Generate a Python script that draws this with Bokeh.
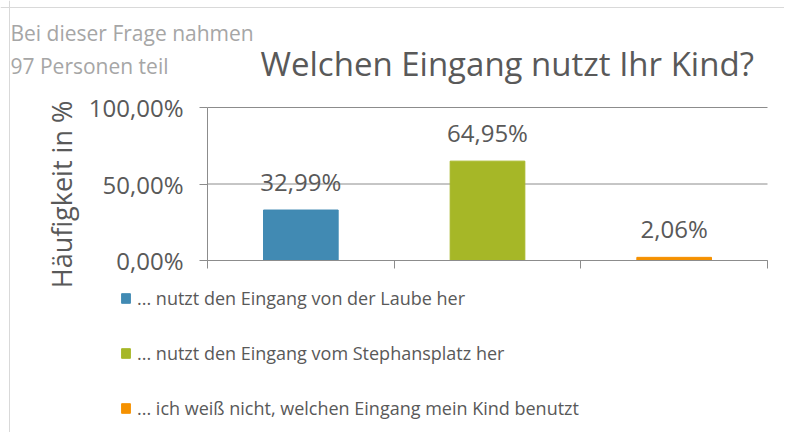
import math
from bokeh.plotting import figure
from bokeh.core.properties import value
from bokeh.models import (FixedTicker, Label, LabelSet, Legend, LegendItem,
                          ColumnDataSource, Range1d, LinearAxis, Span)
from bokeh.embed import file_html
from bokeh.resources import INLINE

# ---- data ----
categories = ["... nutzt den Eingang von der Laube her",
              "... nutzt den Eingang vom Stephansplatz her",
              "... ich weiß nicht, welchen Eingang mein Kind benutzt"]
values = [32.99, 64.95, 2.06]
colors = ["#418AB3", "#A6B727", "#F59100"]
y_ticks = [0, 50, 100]
y_tick_labels = ["0,00%", "50,00%", "100,00%"]
title_text = "Welchen Eingang nutzt Ihr Kind?"
note_lines = ["Bei dieser Frage nahmen", "97 Personen teil"]
y_label = "Häufigkeit in %"

FONT = "Open Sans"
TXT = "#595959"
GRID = "#8c8c8c"

# ---- layout (pixels) ----
W, H = 784, 432
PL, PR, PT, PB = 207, 767, 107, 260   # plot area inside the canvas
n = len(values)
ymax = y_ticks[-1]
ux = (PR - PL) / n
uy = (PB - PT) / ymax

xs = [i + 0.5 for i in range(n)]
labels = [f"{v:.2f}".replace(".", ",") + "%" for v in values]
src = ColumnDataSource(dict(x=xs, top=values, color=colors, label=labels, cat=categories))

p = figure(width=W, height=H, output_backend="svg", toolbar_location=None,
           x_range=Range1d(-PL / ux, (W - PL) / ux),
           y_range=Range1d(-(H - PB) / uy, PB / uy),
           x_axis_location=None, y_axis_location=None,
           min_border=0, min_border_left=0, min_border_right=0,
           min_border_top=0, min_border_bottom=0)
p.outline_line_color = None
p.background_fill_color = "white"
p.border_fill_color = "white"
p.xgrid.visible = False
p.ygrid.visible = False

# chart area border (left and top edges)
p.add_layout(Span(location=9, location_units="screen", dimension="height",
                  line_color="#d9d9d9", line_width=1))
p.add_layout(Span(location=H - 7, location_units="screen", dimension="width",
                  line_color="#d9d9d9", line_width=1))

# gridlines (from the y ticks, across all categories)
p.segment(x0=[0] * len(y_ticks), x1=[n] * len(y_ticks), y0=y_ticks, y1=y_ticks,
          line_color=GRID, line_width=1)

r = p.vbar(x="x", top="top", width=0.4, bottom=0, color="color", source=src)

# y axis
ya = LinearAxis(fixed_location=0, bounds=(0, ymax))
ya.ticker = FixedTicker(ticks=y_ticks)
ya.major_label_overrides = {t: l for t, l in zip(y_ticks, y_tick_labels)}
ya.major_label_text_font = FONT
ya.major_label_text_font_size = "24px"
ya.major_label_text_color = TXT
ya.major_label_standoff = 16
ya.major_tick_in = 0
ya.major_tick_out = 8
ya.minor_tick_line_color = None
ya.axis_line_color = GRID
ya.major_tick_line_color = GRID
p.add_layout(ya, "left")

# x axis (category boundaries)
xa = LinearAxis(fixed_location=0, bounds=(0, n))
xa.ticker = FixedTicker(ticks=list(range(n + 1)))
xa.major_label_overrides = {i: "" for i in range(n + 1)}
xa.major_tick_in = 0
xa.major_tick_out = 8
xa.minor_tick_line_color = None
xa.axis_line_color = GRID
xa.major_tick_line_color = GRID
p.add_layout(xa, "below")

# y axis title
p.add_layout(Label(x=61, y=H - 194, x_units="screen", y_units="screen", text=y_label,
                   angle=math.pi / 2, text_align="center", text_baseline="middle",
                   text_font=FONT, text_font_size="27px", text_color=TXT))

# data labels
ls = LabelSet(x="x", y="top", text="label", source=src, y_offset=19,
              text_align="center", text_baseline="alphabetic",
              text_font=value(FONT), text_font_size=value("24px"),
              text_color=value(TXT))
p.add_layout(ls)

# title
p.add_layout(Label(x=260, y=H - 63, x_units="screen", y_units="screen", text=title_text,
                   text_font=FONT, text_font_size="33px", text_color=TXT,
                   text_baseline="alphabetic"))
# note
for i, line in enumerate(note_lines):
    p.add_layout(Label(x=10, y=H - 32 - 33 * i, x_units="screen", y_units="screen",
                       text=line, text_font=FONT, text_font_size="21px",
                       text_color="#a6a6a6", text_baseline="alphabetic"))

# legend
items = [LegendItem(label=c, renderers=[r], index=i) for i, c in enumerate(categories)]
leg = Legend(items=items, location=(120, H - 420), orientation="vertical",
             glyph_width=11, glyph_height=12, label_standoff=6, spacing=31,
             padding=0, margin=0, border_line_color=None, background_fill_alpha=0,
             label_text_font=FONT, label_text_font_size="18px", label_text_color=TXT)
p.add_layout(leg)

open("out.html", "w").write(file_html(p, INLINE))
